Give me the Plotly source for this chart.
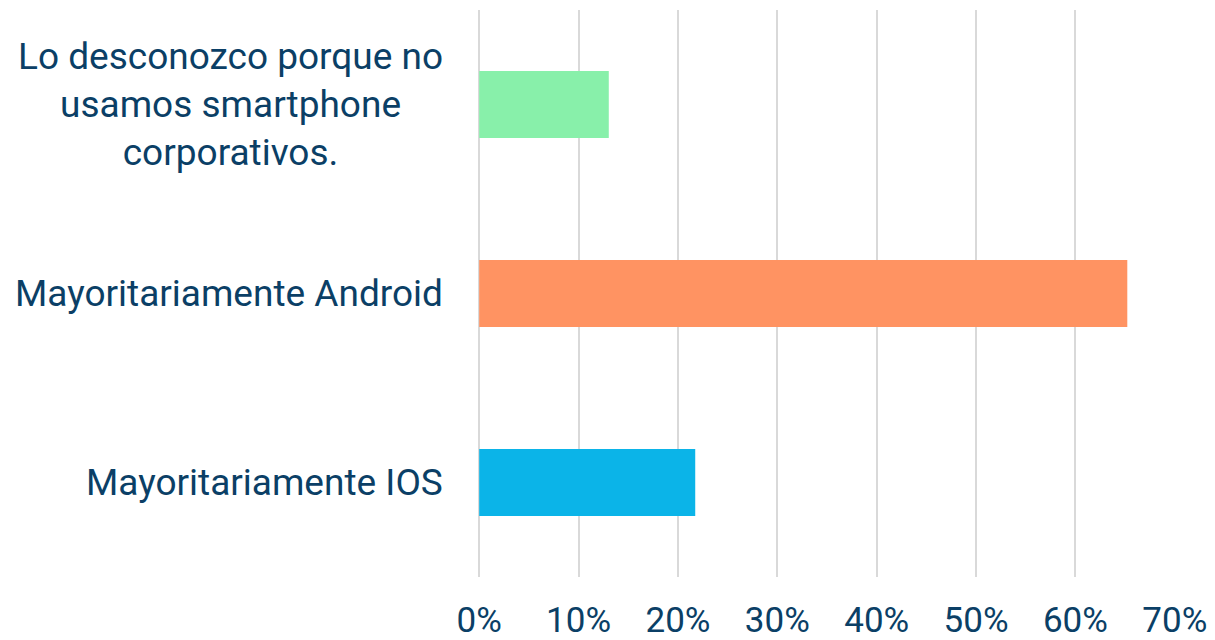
import plotly.graph_objects as go

categories = ["Mayoritariamente IOS", "Mayoritariamente Android",
              "Lo desconozco porque no<br>usamos smartphone<br>corporativos."]
values = [21.74, 65.22, 13.04]
colors = ["#0BB4E8", "#FF9362", "#88F0AA"]
tick_vals = [0, 10, 20, 30, 40, 50, 60, 70]
tick_text = ["0%", "10%", "20%", "30%", "40%", "50%", "60%", "70%"]

TEXT = "#0B3F66"
FONT = "Roboto"

fig = go.Figure(go.Bar(
    x=values, y=categories, orientation="h",
    marker=dict(color=colors, line=dict(width=0)),
    width=0.355, hoverinfo="skip",
))

for c in categories:
    fig.add_annotation(
        x=0, xref="paper", y=c, yref="y", xanchor="right", yanchor="middle",
        xshift=-34, text=c, showarrow=False, align="center",
        font=dict(family=FONT, size=37, color=TEXT),
    )

# page body has an 8px margin, so the figure is sized to fit the window
fig.update_layout(
    width=1207, height=632,
    margin=dict(l=471, r=40, t=2, b=63, autoexpand=False),
    paper_bgcolor="white", plot_bgcolor="white",
    showlegend=False,
    font=dict(family=FONT, color=TEXT),
    xaxis=dict(
        range=[-0.02, 70.02], tickvals=tick_vals, ticktext=tick_text,
        showgrid=True, gridcolor="#D9D9D9", gridwidth=2,
        zeroline=True, zerolinecolor="#D9D9D9", zerolinewidth=2,
        showline=False, automargin=False,
        ticks="outside", ticklen=12, tickcolor="rgba(0,0,0,0)",
        tickfont=dict(family=FONT, size=35, color=TEXT),
    ),
    yaxis=dict(
        range=[-0.5, 2.5], categoryorder="array", categoryarray=categories,
        showticklabels=False, showgrid=False, zeroline=False, showline=False,
        automargin=False,
    ),
)

fig.write_html("out.html")
